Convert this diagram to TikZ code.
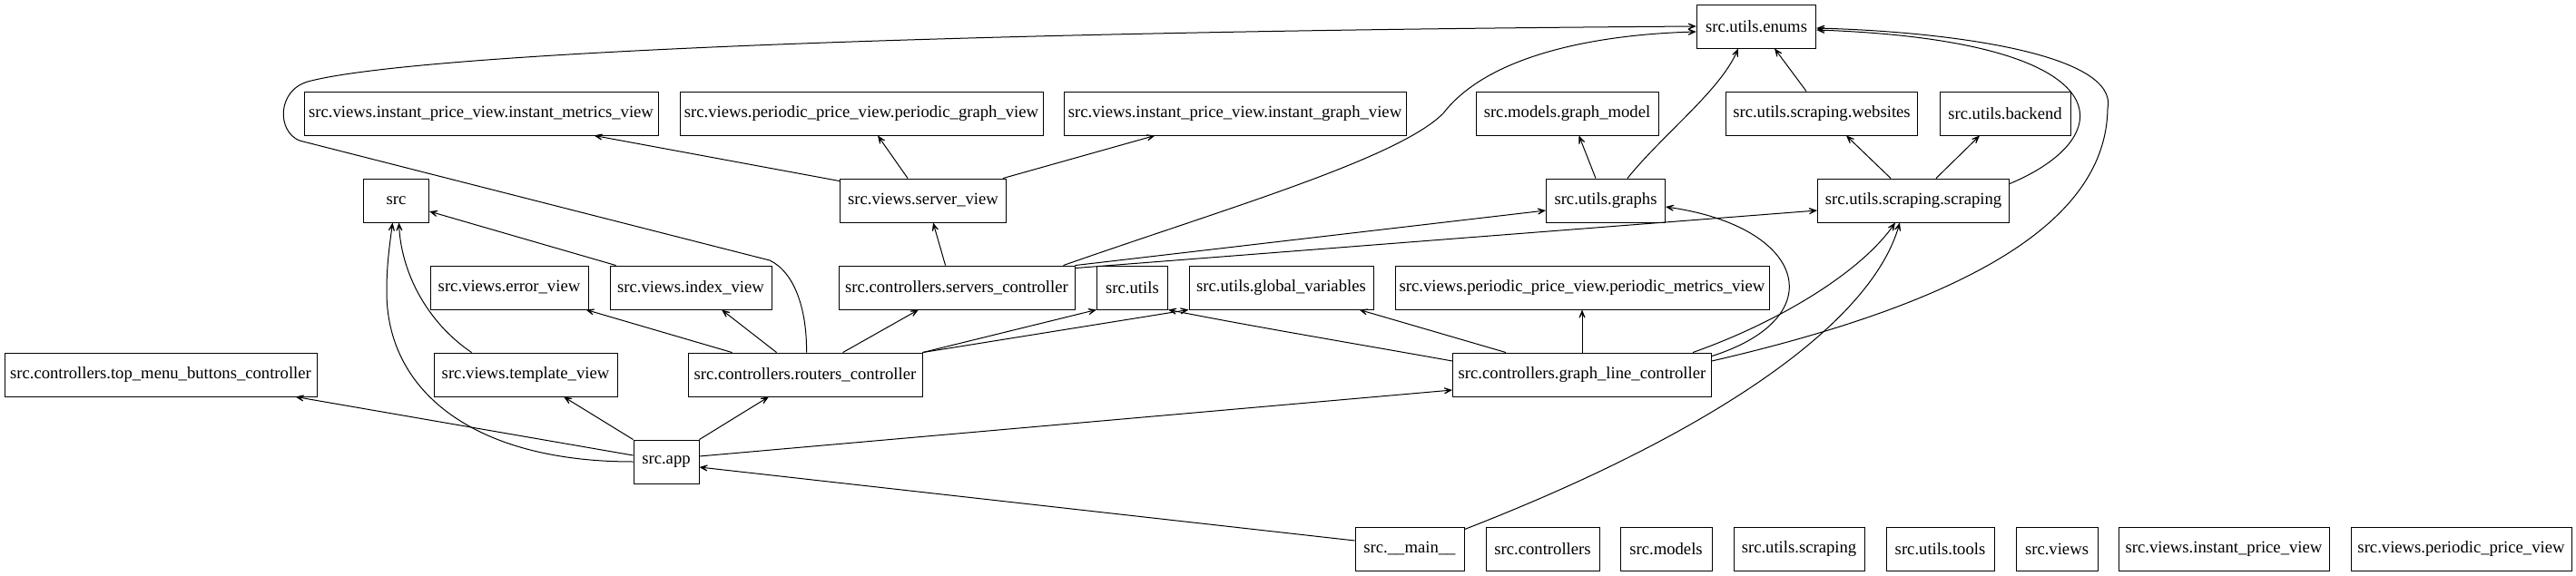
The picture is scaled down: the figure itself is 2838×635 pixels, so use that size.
\documentclass[tikz,border=0pt]{standalone}
\usepackage{fontspec}
\setmainfont{Liberation Serif}
\usetikzlibrary{arrows.meta,calc}
\begin{document}
\begin{tikzpicture}[x=0.75pt,y=-0.75pt,
  box/.style={draw,line width=0.65pt,minimum height=36pt,inner sep=0pt,font=\fontsize{14}{16}\selectfont},
  dep/.style={line width=0.75pt,-{Stealth[length=11pt,width=9pt,inset=7.5pt]}}]
\useasboundingbox (0,0) rectangle (2838,635);
% rank 0
\node[box,minimum width=98.6pt] (enums) at (1935,29) {src.utils.enums};
% rank 1
\node[box,minimum width=292.5pt] (imv) at (530,125) {src.views.instant\_price\_view.instant\_metrics\_view};
\node[box,minimum width=300pt] (pgv) at (949,125) {src.views.periodic\_price\_view.periodic\_graph\_view};
\node[box,minimum width=282.75pt] (igv) at (1360.5,125) {src.views.instant\_price\_view.instant\_graph\_view};
\node[box,minimum width=150.75pt] (gm) at (1726.5,125) {src.models.graph\_model};
\node[box,minimum width=158.25pt] (web) at (2007,125) {src.utils.scraping.websites};
\node[box,minimum width=108pt] (backend) at (2209,125) {src.utils.backend};
% rank 2
\node[box,minimum width=54pt] (src) at (436.5,221) {src};
\node[box,minimum width=137.25pt] (sv) at (1017,221) {src.views.server\_view};
\node[box,minimum width=98.25pt] (graphs) at (1769,221) {src.utils.graphs};
\node[box,minimum width=158.25pt] (scr) at (2108,221) {src.utils.scraping.scraping};
% rank 3
\node[box,minimum width=130.5pt] (err) at (561,317) {src.views.error\_view};
\node[box,minimum width=133.5pt] (idx) at (761,317) {src.views.index\_view};
\node[box,minimum width=195pt] (sc) at (1054,317) {src.controllers.servers\_controller};
\node[box,minimum width=58.5pt] (utils) at (1247.5,317) {src.utils};
\node[box,minimum width=152.25pt] (gv) at (1411.5,317) {src.utils.global\_variables};
\node[box,minimum width=309pt] (pmv) at (1743,317) {src.views.periodic\_price\_view.periodic\_metrics\_view};
% rank 4
\node[box,minimum width=258pt] (top) at (177,413) {src.controllers.top\_menu\_buttons\_controller};
\node[box,minimum width=151.5pt] (tv) at (579,413) {src.views.template\_view};
\node[box,minimum width=193.5pt] (rc) at (887,413) {src.controllers.routers\_controller};
\node[box,minimum width=213.75pt] (glc) at (1743,413) {src.controllers.graph\_line\_controller};
% rank 5
\node[box,minimum width=54pt] (app) at (734,509) {src.app};
% rank 6
\node[box,minimum width=90pt] (main) at (1553,605) {src.\_\_main\_\_};
\node[box,minimum width=93.75pt] (ctrl) at (1699.5,605) {src.controllers};
\node[box,minimum width=75.75pt] (models) at (1835.5,605) {src.models};
\node[box,minimum width=108pt] (uscr) at (1982,605) {src.utils.scraping};
\node[box,minimum width=89.25pt] (tools) at (2137.5,605) {src.utils.tools};
\node[box,minimum width=67.5pt] (views) at (2266,605) {src.views};
\node[box,minimum width=174pt] (ipv) at (2450,605) {src.views.instant\_price\_view};
\node[box,minimum width=182.25pt] (ppv) at (2711.5,605) {src.views.periodic\_price\_view};
% edges from src.app
\draw[dep] ($(app.west)+(0,-7)$) -- ($(top.south east)+(-24,0)$);
\draw[dep] (app.north west) -- ($(tv.south)+(42,0)$);
\draw[dep] (app.north east) -- ($(rc.south)+(-40,0)$);
\draw[dep] (app.west) .. controls (520,509) and (425,430) .. (426,320) .. controls (426,290) and (430,265) .. ($(src.south)+(-4,0)$);
\draw[dep] ($(app.east)+(0,-6)$) -- ($(glc.west)+(0,17)$);
% edges from src.__main__
\draw[dep] ($(main.west)+(0,-9)$) -- ($(app.east)+(0,6)$);
\draw[dep] ($(main.north east)+(0,3)$) .. controls (1880,480) and (2060,360) .. ($(scr.south)+(-15,0)$);
% views to src
\draw[dep] ($(tv.north west)+(42,0)$) .. controls (470,355) and (442,300) .. ($(src.south)+(3,0)$);
\draw[dep] ($(idx.north west)+(7,0)$) -- ($(src.east)+(0,12)$);
% routers controller
\draw[dep] ($(rc.north west)+(49,0)$) -- ($(err.south east)+(-3,0)$);
\draw[dep] ($(rc.north west)+(98,0)$) -- ($(idx.south)+(34,0)$);
\draw[dep] ($(rc.north west)+(171,0)$) -- ($(sc.south)+(-42,0)$);
\draw[dep] ($(rc.north west)+(131,0)$) .. controls (889,340) and (875,300) .. (848,287) -- (330,155) .. controls (305,145) and (305,100) .. (339,90) .. controls (450,60) and (1000,35) .. (enums.west);
\draw[dep] (rc.north east) -- (utils.south west);
\draw[dep] (rc.north east) -- (gv.south west);
% servers controller
\draw[dep] ($(sc.north west)+(118,0)$) -- ($(sv.south)+(11,0)$);
\draw[dep] ($(sc.north east)+(-13,0)$) .. controls (1350,230) and (1540,175) .. (1590,125) .. controls (1640,60) and (1760,38) .. ($(enums.west)+(0,6)$);
\draw[dep] (sc.north east) -- ($(graphs.west)+(0,11)$);
\draw[dep] ($(sc.north east)+(0,3)$) -- ($(scr.west)+(0,11)$);
% server view
\draw[dep] ($(sv.north west)+(0,3)$) -- ($(imv.south east)+(-71,0)$);
\draw[dep] ($(sv.north west)+(75,0)$) -- ($(pgv.south)+(18,0)$);
\draw[dep] ($(sv.north east)+(-4,0)$) -- ($(igv.south)+(-88,0)$);
% utils
\draw[dep] ($(graphs.north)+(-11,0)$) -- ($(gm.south)+(13,0)$);
\draw[dep] ($(graphs.north)+(24,0)$) .. controls (1830,150) and (1895,100) .. ($(enums.south)+(-20,0)$);
\draw[dep] ($(web.north)+(-17,0)$) -- ($(enums.south)+(20,0)$);
\draw[dep] ($(scr.north)+(-25,0)$) -- ($(web.south)+(27,0)$);
\draw[dep] ($(scr.north)+(25,0)$) -- ($(backend.south)+(-28,0)$);
\draw[dep] ($(scr.north east)+(0,6)$) .. controls (2340,150) and (2340,45) .. ($(enums.east)+(0,4)$);
% graph line controller
\draw[dep] ($(glc.east)+(0,-15)$) .. controls (2180,330) and (2320,240) .. (2322,120) .. controls (2335,60) and (2150,35) .. ($(enums.east)+(0,2)$);
\draw[dep] ($(glc.north east)+(0,4)$) .. controls (2020,350) and (1990,250) .. ($(graphs.east)+(0,7)$);
\draw[dep] ($(glc.north east)+(-21,0)$) .. controls (1960,355) and (2050,300) .. ($(scr.south)+(-20,0)$);
\draw[dep] (glc.north) -- (pmv.south);
\draw[dep] ($(glc.north west)+(59,0)$) -- ($(gv.south east)+(-16,0)$);
\draw[dep] ($(glc.west)+(0,-15)$) .. controls (1500,380) and (1380,360) .. (utils.south east);
\end{tikzpicture}
\end{document}
